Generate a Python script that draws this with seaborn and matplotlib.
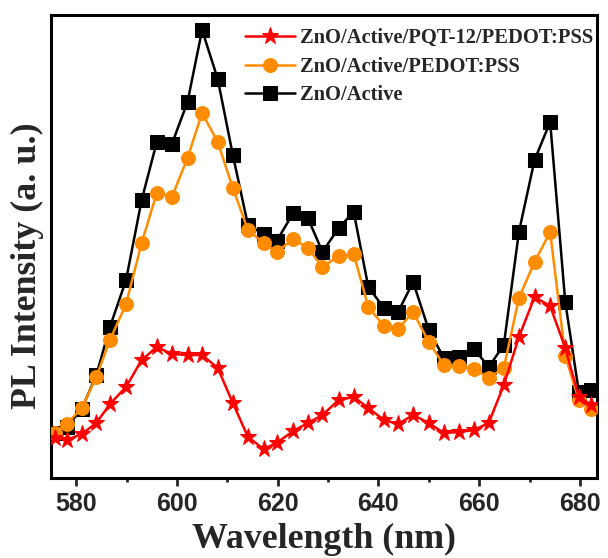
import matplotlib
matplotlib.use("Agg")
import matplotlib.pyplot as plt
import seaborn as sns
import pandas as pd
from matplotlib.ticker import MultipleLocator, NullLocator

wavelength = [575.8, 578.1, 581.1, 584.0, 586.7, 589.9, 593.0, 596.0, 599.0, 602.1,
              605.0, 608.1, 611.1, 614.1, 617.2, 619.8, 623.1, 626.0, 628.9, 632.1,
              635.1, 638.0, 641.1, 643.9, 646.9, 650.0, 653.0, 656.0, 659.0, 661.9,
              664.9, 667.9, 671.0, 674.1, 677.1, 679.8, 682.3]

zno_active = [45, 51, 69, 103, 151, 198, 278, 336, 334, 376,
              448, 399, 323, 253, 244, 237, 265, 260, 226, 250,
              266, 191, 170, 166, 196, 148, 120, 121, 129, 111,
              133, 246, 318, 356, 176, 86, 88]

zno_pedot = [45, 54, 70, 101, 138, 174, 235, 285, 281, 320,
             365, 336, 290, 248, 235, 226, 239, 230, 211, 222,
             224, 171, 152, 149, 166, 136, 113, 112, 109, 100,
             110, 180, 216, 246, 122, 78, 69]

zno_pqt = [40, 38, 44, 55, 74, 91, 118, 131, 124, 123,
           123, 110, 75, 41, 29, 35, 47, 55, 63, 78,
           81, 70, 58, 54, 63, 55, 45, 46, 48, 55,
           93, 141, 181, 172, 130, 81, 73]

labels = ["ZnO/Active/PQT-12/PEDOT:PSS", "ZnO/Active/PEDOT:PSS", "ZnO/Active"]
x_ticks = [580, 600, 620, 640, 660, 680]

sns.set_style("white")
plt.rcParams["font.family"] = ["Liberation Serif", "DejaVu Serif"]

fig = plt.figure(figsize=(6.08, 5.58), dpi=100)
ax = fig.add_axes([51/608, 1-478/558, (597-51)/608, (478-15)/558])

df_k = pd.DataFrame({"x": wavelength, "y": zno_active})
df_o = pd.DataFrame({"x": wavelength, "y": zno_pedot})
df_r = pd.DataFrame({"x": wavelength, "y": zno_pqt})

sns.lineplot(data=df_k, x="x", y="y", ax=ax, color="black", marker="s", markersize=9.5,
             markeredgecolor="black", linewidth=1.8, label=labels[2], zorder=2)
sns.lineplot(data=df_o, x="x", y="y", ax=ax, color="#FF8C00", marker="o", markersize=10,
             markeredgecolor="#FF8C00", linewidth=1.8, label=labels[1], zorder=3)
sns.lineplot(data=df_r, x="x", y="y", ax=ax, color="#FF0000", marker="*", markersize=12.5,
             markeredgecolor="#FF0000", linewidth=1.8, label=labels[0], zorder=4)

ax.set_xlim(575, 683.4)
ax.set_ylim(0, 463)
ax.set_xticks(x_ticks)
ax.set_xticklabels([str(t) for t in x_ticks], fontfamily="Liberation Sans", fontweight="bold", fontsize=18)
ax.xaxis.set_minor_locator(MultipleLocator(10))
ax.yaxis.set_major_locator(NullLocator())
ax.tick_params(axis="x", which="major", direction="out", length=6, width=2, bottom=True, pad=4)
ax.tick_params(axis="x", which="minor", direction="out", length=3, width=2, bottom=True)
for s in ax.spines.values():
    s.set_linewidth(2.2)
    s.set_color("black")

ax.set_xlabel("Wavelength (nm)", fontsize=25.8, fontweight="bold")
ax.xaxis.set_label_coords(0.5, (478 - 523) / 463)
ax.set_ylabel("PL Intensity (a. u.)", fontsize=25.8, fontweight="bold")
ax.yaxis.set_label_coords((44 - 51) / 546, (478 - 266) / 463)

h, l = ax.get_legend_handles_labels()
order = [2, 1, 0]
ax.legend([h[i] for i in order], [l[i] for i in order], loc="upper left", frameon=False,
          prop={"family": "Liberation Serif", "weight": "bold", "size": 14.8},
          handlelength=2.4, handletextpad=0.25, labelspacing=0.42,
          bbox_to_anchor=((237 - 51) / 546, (478 - 20) / 463), borderaxespad=0)

fig.savefig("out.png", dpi=100)
